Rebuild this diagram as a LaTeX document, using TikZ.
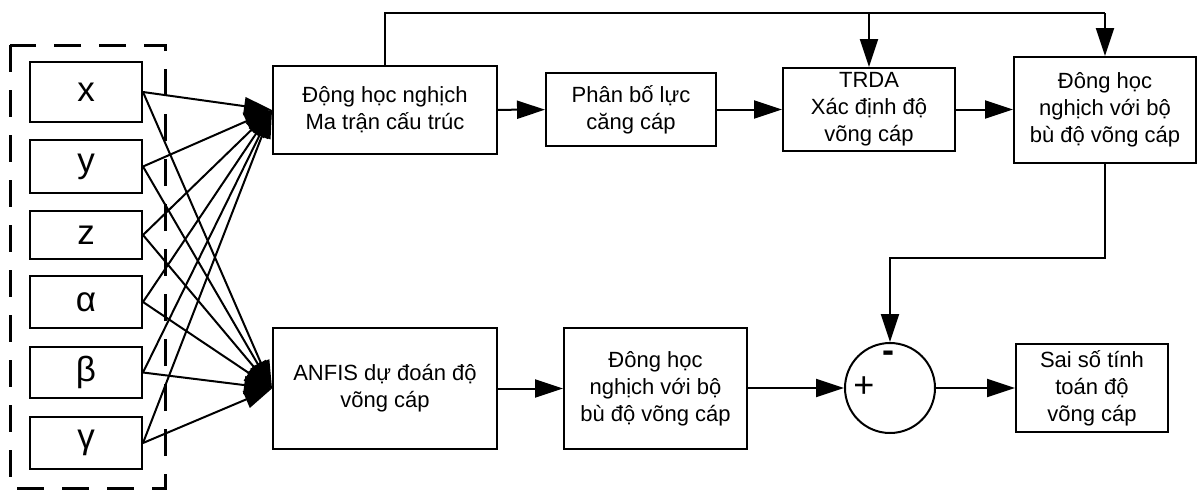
\documentclass[tikz,border=0pt]{standalone}
\usepackage{fontspec}
\setmainfont{Liberation Sans}
\usetikzlibrary{arrows.meta}
\begin{document}
\begin{tikzpicture}[x=0.5pt,y=-0.5pt,
  blk/.style={draw, line width=1pt, inner sep=0pt, align=center,
    font=\fontsize{11}{13.5}\selectfont},
  inbox/.style={draw, line width=1pt, inner sep=0pt, minimum width=56pt,
    font=\fontsize{17.5}{20}\selectfont},
  sumnode/.style={draw, circle, line width=1pt, minimum size=45pt, inner sep=0pt},
  link/.style={line width=1pt, -{Triangle[length=14pt,width=9pt]}},
  wire/.style={line width=1pt},
  group/.style={line width=1.5pt, dash pattern=on 13.5pt off 9pt}]
\useasboundingbox (0,0) rectangle (1200,489);

% input variables inside the dashed group
\draw[group] (10,45) rectangle (165,488);
\node[inbox, minimum height=30pt]   (ix) at (86,92)    {x};
\node[inbox, minimum height=26.5pt] (iy) at (86,166.5) {y};
\node[inbox, minimum height=24pt]   (iz) at (86,235)   {z};
\node[inbox, minimum height=26pt]   (ia) at (86,302)   {α};
\node[inbox, minimum height=25.5pt] (ib) at (86,372.5) {β};
\node[inbox, minimum height=26pt]   (ig) at (86,443)   {γ};

% processing blocks
\node[blk, minimum width=112pt, minimum height=44pt] (ik) at (385,110)
  {Động học nghịch\\Ma trận cấu trúc};
\node[blk, minimum width=85pt, minimum height=36.5pt] (tf) at (631,109.5)
  {Phân bố lực\\căng cáp};
\node[blk, minimum width=86pt, minimum height=41.5pt] (trda) at (869,109.5)
  {TRDA\\Xác định độ\\võng cáp};
\node[blk, minimum width=91pt, minimum height=53pt] (ikc) at (1105,110)
  {Đông học\\nghịch với bộ\\bù độ võng cáp};
\node[blk, minimum width=112pt, minimum height=60.5pt] (anfis) at (385,388.5)
  {ANFIS dự đoán độ\\võng cáp};
\node[blk, minimum width=91.5pt, minimum height=60.5pt] (ikb) at (655.5,388.5)
  {Đông học\\nghịch với bộ\\bù độ võng cáp};
\node[sumnode] (sum) at (890,388) {};
\node[font=\fontsize{18}{20}\selectfont, inner sep=0pt] (plus) at (864,387) {+};
\node[font=\bfseries\fontsize{18}{20}\selectfont, inner sep=0pt] (minus) at (888,357) {-};
\node[blk, minimum width=76pt, minimum height=44pt] (err) at (1092,388)
  {Sai số tính\\toán độ\\võng cáp};

% every input feeds both the kinematics block and the ANFIS block
\foreach \n in {ix,iy,iz,ia,ib,ig}{
  \draw[link] (\n.east) -- (ik.west);
  \draw[link] (\n.east) -- (anfis.west);
}

% main chain
\draw[link] (ik) -- (tf);
\draw[link] (tf) -- (trda);
\draw[link] (trda.east) -- (ikc.west |- trda.east);
\draw[link] (anfis) -- (ikb);
\draw[link] (ikb.east |- sum.west) -- (sum.west);
\draw[link] (sum.east) -- (err.west |- sum.east);

% feed-forward line over the top
\coordinate (tl) at (385,13);
\coordinate (tr) at (1105,13);
\draw[wire] (ik.north) -- (tl) -- (tr);
\draw[link] (tr) -- (ikc.north);
\draw[link] (trda.north |- tl) -- (trda.north);

% compensated result into the comparator
\coordinate (d1) at (1105,258);
\coordinate (d2) at (890,258);
\draw[link] (ikc.south) -- (d1) -- (d2) -- (sum.north);
\end{tikzpicture}
\end{document}
